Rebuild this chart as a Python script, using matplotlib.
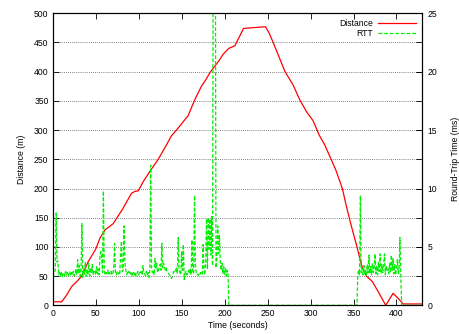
import numpy as np
import matplotlib
matplotlib.use("Agg")
import matplotlib.pyplot as plt

plt.rcParams["font.family"] = ["Liberation Sans", "DejaVu Sans"]

# ── distance trace (time s, metres) ───────────────────────────────────────────
dist_t = [0, 10.5, 16.3, 22, 27.9, 33.7, 41.4, 50, 55, 60.8, 70.5, 81, 91.8, 95.7,
          99.6, 105.4, 114.3, 122.8, 132.5, 138, 144, 157.7, 164.7, 173, 178, 183.7,
          192.6, 198.4, 205, 212, 222, 229.4, 247.6, 251.9, 256.5, 264, 270, 279.8,
          287.6, 295.3, 303, 310, 316.6, 329.4, 337, 341.8, 347.6, 353.5, 359.3,
          365, 372, 379.8, 387.5, 396, 401.9, 407.7, 430]
dist_m = [6, 6, 17.7, 32, 40.5, 50, 75, 96, 115, 129, 140, 164, 192, 195,
          196, 212, 232, 250, 275, 290, 300, 325, 350, 375, 386, 400,
          417, 430, 440, 444.5, 474, 475, 477, 466, 450, 423, 401, 377,
          351.5, 331.5, 316, 291.6, 274.5, 231.7, 200, 169, 135, 103, 69,
          50, 40.5, 20.5, 0, 20.5, 12, 2.3, 2.3]

# ── RTT trace, 1 s samples (ms) ───────────────────────────────────────────────
rtt1_ms = [3.3, 2.6, 2.8, 3.0, 7.9, 3.7, 3.8, 2.6, 2.8, 2.5,
           2.9, 2.4, 2.7, 2.8, 2.5, 2.9, 2.6, 2.8, 2.5, 2.7,
           2.9, 2.5, 2.8, 2.6, 2.9, 2.5, 2.7, 3.1, 2.6, 3.9,
           2.7, 3.4, 2.5, 3.0, 7.0, 2.4, 3.1, 2.6, 3.7, 2.5,
           3.0, 2.7, 3.6, 2.5, 3.2, 2.8, 3.5, 2.6, 2.9, 3.0,
           2.6, 3.3, 2.7, 3.1, 2.6, 4.3, 4.6, 4.0, 2.8, 9.8,
           3.0, 2.6, 2.8, 2.7, 3.0, 2.6, 2.8, 2.7, 2.9, 2.6,
           2.7, 3.2, 5.3, 2.8, 2.6, 2.9, 2.7, 2.8, 2.6, 4.3,
           5.5, 2.9, 3.0, 6.8, 3.7, 3.0, 2.6, 2.8, 2.7, 2.9,
           2.6, 2.8, 2.5, 2.7, 2.9, 2.6, 2.8, 2.5, 2.7, 2.9,
           2.6, 2.8, 2.7, 2.9, 2.6, 3.4, 2.8, 2.7, 2.5, 2.9,
           2.6, 2.8, 2.4, 3.0, 12.0, 3.2, 2.8, 3.0, 2.6, 4.0,
           3.2, 3.6, 2.8, 3.0, 3.3, 3.5, 3.0, 5.3, 3.2, 3.6,
           3.3, 3.0, 3.2, 2.9, 2.8, 2.7, 2.6, 2.5, 2.3, 2.4,
           2.7, 2.9, 2.8, 3.0, 3.2, 2.7, 5.8, 3.0, 2.8, 2.6,
           4.6, 3.0, 5.2, 2.2, 2.7, 2.9, 2.6, 2.8, 3.0, 2.7,
           3.1, 2.6, 5.6, 2.9, 2.7, 9.4, 3.5, 2.8, 2.6, 2.7,
           2.5, 2.6, 2.8, 2.7, 2.6, 5.2, 3.0, 2.6, 3.8, 7.4,
           3.1, 7.5, 4.8, 7.4, 4.3, 7.6, 3.4, 40.0, 40.0, 40.0,
           3.2, 3.9, 6.8, 4.4, 6.0, 3.7, 3.0, 3.6, 2.7, 3.3,
           2.6, 3.2, 2.5, 3.0, 2.6, 0.0]
rtt2_ms = [0.0, 2.7, 3.0, 2.6, 9.4, 2.8, 3.2, 2.6, 3.4, 2.7,
           3.0, 2.6, 3.5, 2.8, 4.3, 2.7, 3.3, 2.6, 3.6, 2.8,
           3.2, 4.4, 2.7, 3.4, 2.6, 3.7, 2.9, 4.4, 2.7, 3.5,
           2.8, 3.3, 4.4, 2.6, 3.4, 2.9, 3.1, 2.7, 3.6, 2.8,
           4.3, 3.0, 4.0, 2.7, 3.5, 2.6, 3.2, 3.9, 2.7, 3.0,
           5.8, 2.6, 0.0]
rtt1_start, rtt2_start = 0, 354

rtt_t = np.concatenate([rtt1_start + np.arange(len(rtt1_ms)),
                        rtt2_start + np.arange(len(rtt2_ms)), [430]])
rtt_ms = np.concatenate([rtt1_ms, rtt2_ms, [0.0]])

# ── plot ──────────────────────────────────────────────────────────────────────
fig = plt.figure(figsize=(4.59, 3.34), dpi=100)
ax = fig.add_axes([0.1148, 0.0859, 0.8052, 0.8743])
ax2 = ax.twinx()

l1, = ax.plot(dist_t, dist_m, color="#ff0000", lw=0.9, label="Distance")
l2, = ax2.plot(rtt_t, rtt_ms, color="#00ee00", lw=0.9, ls=(0, (3, 1.5)), label="RTT")

ax.set_xlim(0, 430)
ax.set_ylim(0, 500)
ax2.set_ylim(0, 25)
ax.set_xticks(np.arange(0, 401, 50))
ax.set_yticks(np.arange(0, 501, 50))
ax2.set_yticks(np.arange(0, 26, 5))

for y in np.arange(50, 500, 50):
    ax.axhline(y, color="#555555", lw=0.6, ls=(0, (1, 1.5)), zorder=0)

ax.tick_params(direction="in", length=4, width=0.6, labelsize=6.2,
               top=True, right=True, pad=3)
ax2.tick_params(direction="in", length=4, width=0.6, labelsize=6.2, pad=4)
for a in (ax, ax2):
    for s in a.spines.values():
        s.set_linewidth(0.8)

ax.set_xlabel("Time (seconds)", fontsize=6.2, labelpad=2)
ax.set_ylabel("Distance (m)", fontsize=6.2, labelpad=6)
ax2.set_ylabel("Round-Trip Time (ms)", fontsize=6.2, labelpad=10)

ax2.legend([l1, l2], ["Distance", "RTT"], loc="upper right", frameon=False,
           markerfirst=False, fontsize=6.2, handlelength=4.5, handletextpad=0.5,
           labelspacing=0.1, borderaxespad=0.3)

plt.savefig("out.png", dpi=100)
